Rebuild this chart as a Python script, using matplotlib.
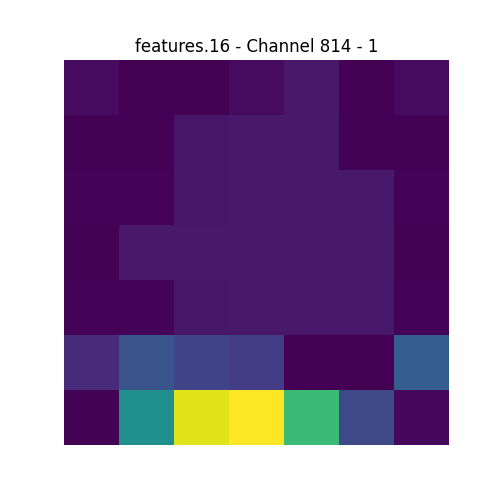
import numpy as np
import matplotlib
matplotlib.use("Agg")
import matplotlib.pyplot as plt

row0 = [0.03, 0.0, 0.0, 0.03, 0.07, 0.0, 0.03]
row1 = [0.005, 0.005, 0.06, 0.07, 0.07, 0.005, 0.005]
row2 = [0.01, 0.01, 0.06, 0.07, 0.07, 0.07, 0.01]
row3 = [0.005, 0.07, 0.07, 0.07, 0.07, 0.07, 0.005]
row4 = [0.01, 0.01, 0.065, 0.07, 0.07, 0.07, 0.01]
row5 = [0.12, 0.26, 0.2, 0.18, 0.0, 0.0, 0.30]
row6 = [0.005, 0.5, 0.95, 1.0, 0.68, 0.22, 0.02]

mapa = np.array([row0, row1, row2, row3, row4, row5, row6])

fig = plt.figure(figsize=(5, 5), dpi=100)
plt.imshow(mapa, cmap="viridis", vmin=0, vmax=1)
plt.title("features.16 - Channel 814 - 1", fontsize=12)
plt.axis("off")
plt.savefig("out.png", dpi=100)
